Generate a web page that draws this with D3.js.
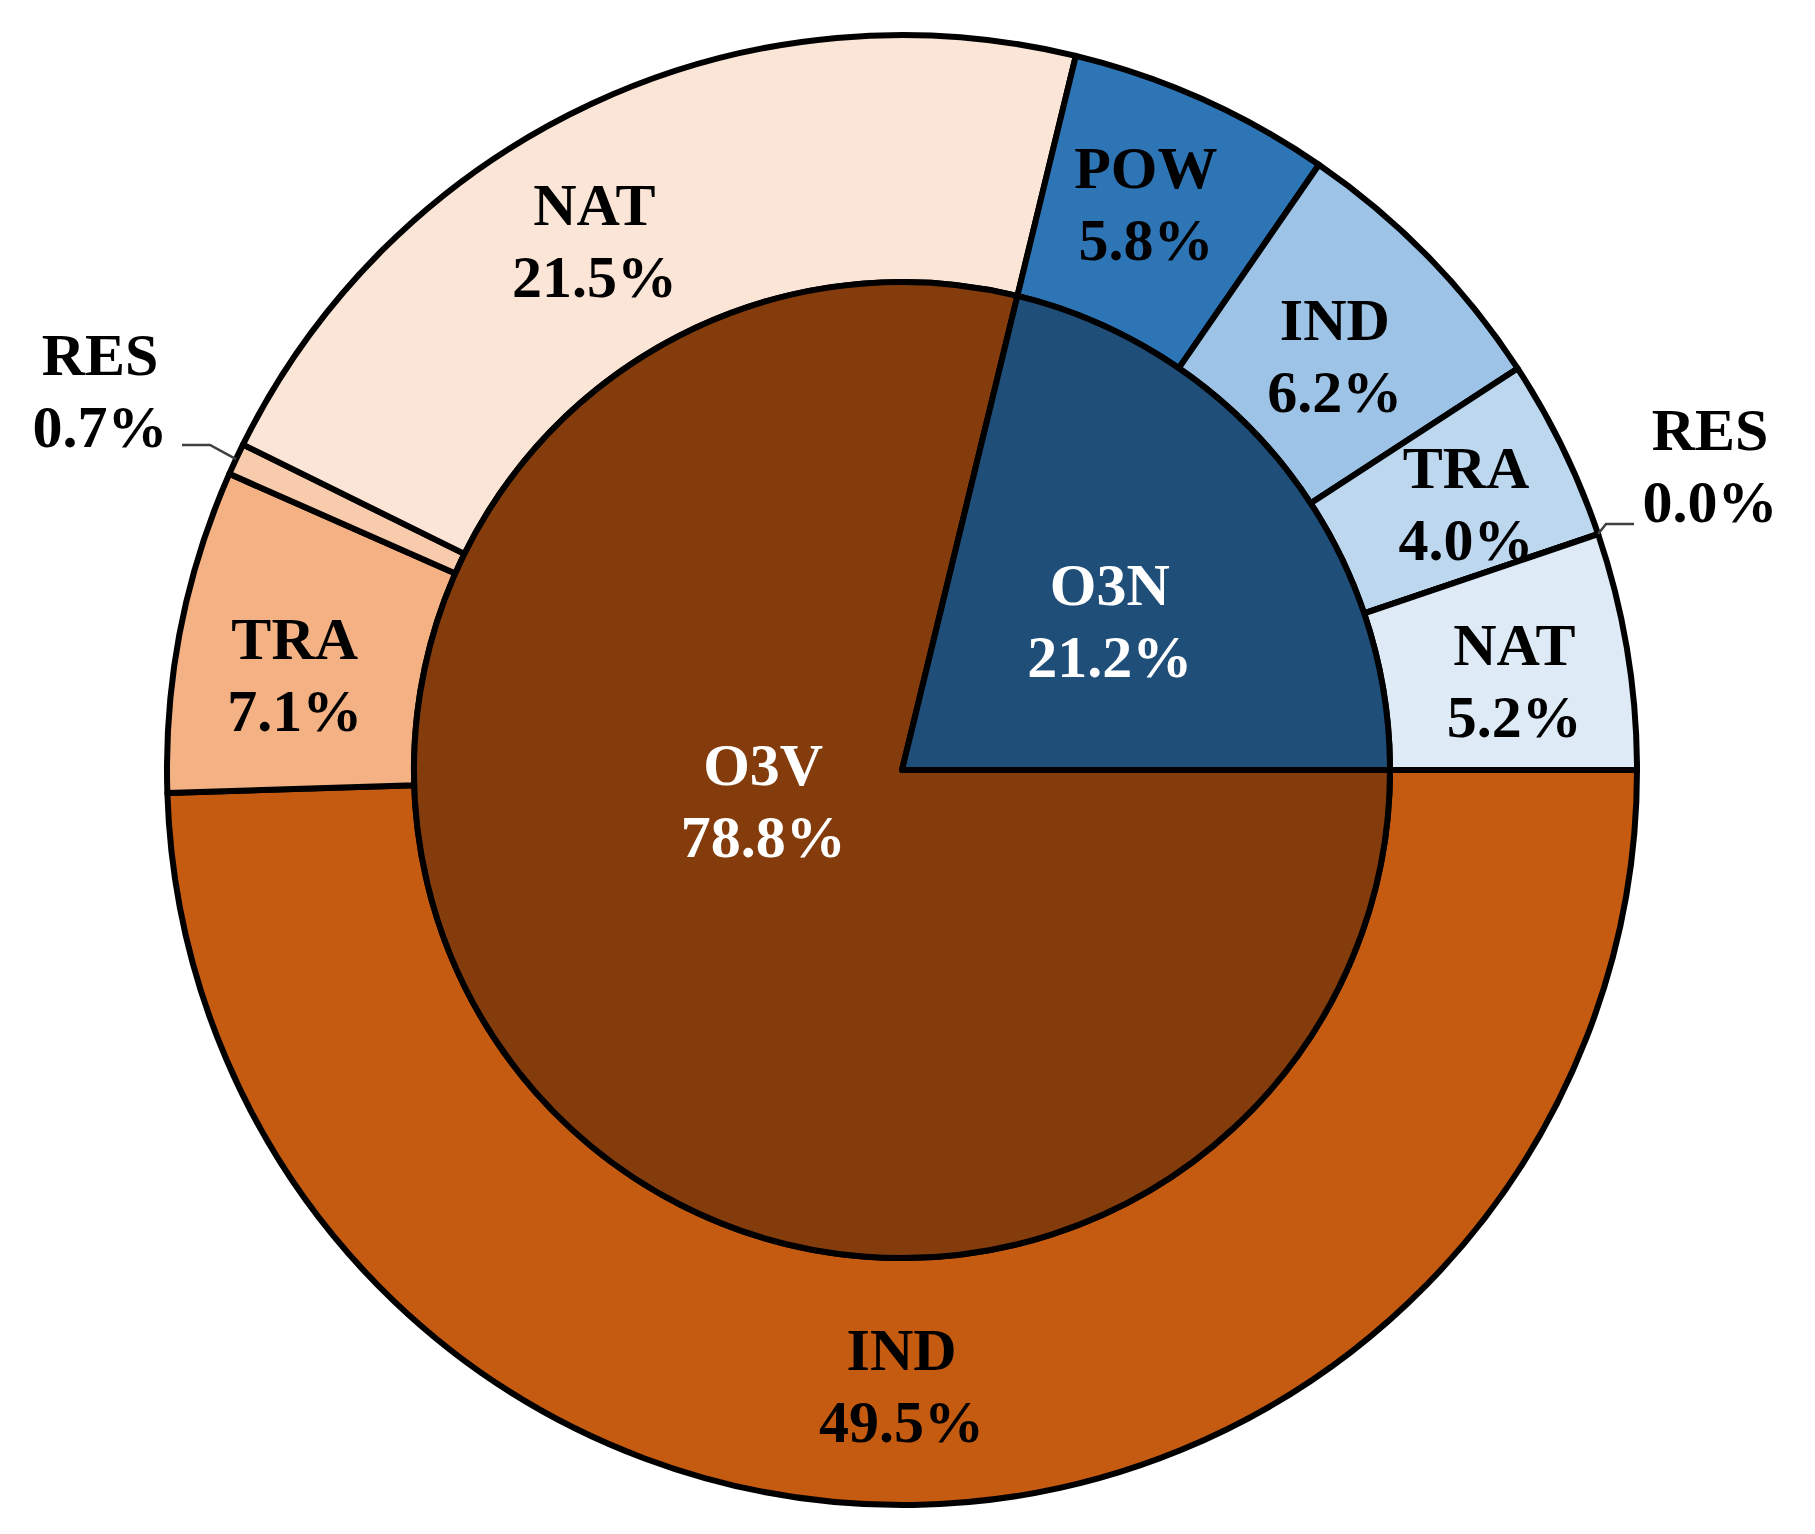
<!DOCTYPE html>
<meta charset="utf-8">
<title>O3 source apportionment</title>
<script src="https://d3js.org/d3.v7.min.js"></script>
<style>
  body { margin: 0; background: #fff; }
  text { font-family: "Liberation Serif", "Times New Roman", serif; font-weight: bold; }
</style>
<body>
<script>

// Data
const innerNames = ["O3V", "O3N"];
const innerValues = [78.8, 21.2];

const outerNames = ["IND", "TRA", "RES", "NAT", "POW", "IND", "TRA", "RES", "NAT"];
const outerValues = [49.5, 7.1, 0.7, 21.5, 5.8, 6.2, 4.0, 0.0, 5.2];

// Styles
const innerColors = ["#843C0C", "#1F4E79"];
const outerColors = ["#C55A11", "#F4B183", "#F8CBAD", "#FBE5D6",
                     "#2E75B6", "#9DC3E6", "#BDD7EE", "#5B9BD5", "#DEEBF7"];

const width = 1815, height = 1534;
const cx = 902, cy = 770;
const rOuter = 735, rInner = 488;
const fontSize = 60, lineGap = 72;

// label nudges from the arc centroid (null = callout outside the ring)
const outerNudge = [[-10, 5], [-7, 21], null, [-49, 25], [-6, -8], [-5, 13], [14, 1], null, [9, 10]];
const innerNudge = [[53, -120], [16, 2]];
// callouts: text centre x, first baseline, elbow of leader line
const callouts = {
  2: { x: 100, y: 375, elbow: [210, 445], end: [182, 445] },
  7: { x: 1710, y: 450, elbow: [1606, 524], end: [1634, 524] }
};

const svg = d3.select("body").append("svg")
  .attr("width", width)
  .attr("height", height);

const g = svg.append("g").attr("transform", `translate(${cx},${cy})`);

const pie = d3.pie()
  .sort(null)
  .value(d => d)
  .startAngle(Math.PI / 2)
  .endAngle(Math.PI / 2 + 2 * Math.PI);

const outerArc = d3.arc().innerRadius(rInner).outerRadius(rOuter);
const innerArc = d3.arc().innerRadius(0).outerRadius(rInner);

const outerData = pie(outerValues);
const innerData = pie(innerValues);

g.selectAll("path.outer")
  .data(outerData)
  .enter().append("path")
  .attr("class", "outer")
  .attr("d", outerArc)
  .attr("fill", (d, i) => outerColors[i])
  .attr("stroke", "#000")
  .attr("stroke-width", 6)
  .attr("stroke-linejoin", "round");

g.selectAll("path.inner")
  .data(innerData)
  .enter().append("path")
  .attr("class", "inner")
  .attr("d", innerArc)
  .attr("fill", (d, i) => innerColors[i])
  .attr("stroke", "#000")
  .attr("stroke-width", 6)
  .attr("stroke-linejoin", "round");

function twoLine(sel, x, y, name, val, color) {
  const t = sel.append("text")
    .attr("text-anchor", "middle")
    .attr("font-size", fontSize)
    .attr("fill", color);
  t.append("tspan").attr("x", x).attr("y", y).text(name);
  t.append("tspan").attr("x", x).attr("y", y + lineGap).text(val.toFixed(1) + "%");
}

// outer labels
outerData.forEach((d, i) => {
  if (outerNudge[i]) {
    const c = outerArc.centroid(d);
    twoLine(g, c[0] + outerNudge[i][0], c[1] + outerNudge[i][1] - 16,
      outerNames[i], outerValues[i], "#000");
  } else {
    const co = callouts[i];
    const a = (d.startAngle + d.endAngle) / 2;
    const p0 = [cx + rOuter * Math.sin(a), cy - rOuter * Math.cos(a)];
    svg.append("path")
      .attr("d", d3.line()([p0, co.elbow, co.end]))
      .attr("fill", "none")
      .attr("stroke", "#404040")
      .attr("stroke-width", 2.5);
    twoLine(svg, co.x, co.y, outerNames[i], outerValues[i], "#000");
  }
});

// inner labels
innerData.forEach((d, i) => {
  const c = innerArc.centroid(d);
  twoLine(g, c[0] + innerNudge[i][0], c[1] + innerNudge[i][1] - 16,
    innerNames[i], innerValues[i], "#fff");
});

</script>
</body>
